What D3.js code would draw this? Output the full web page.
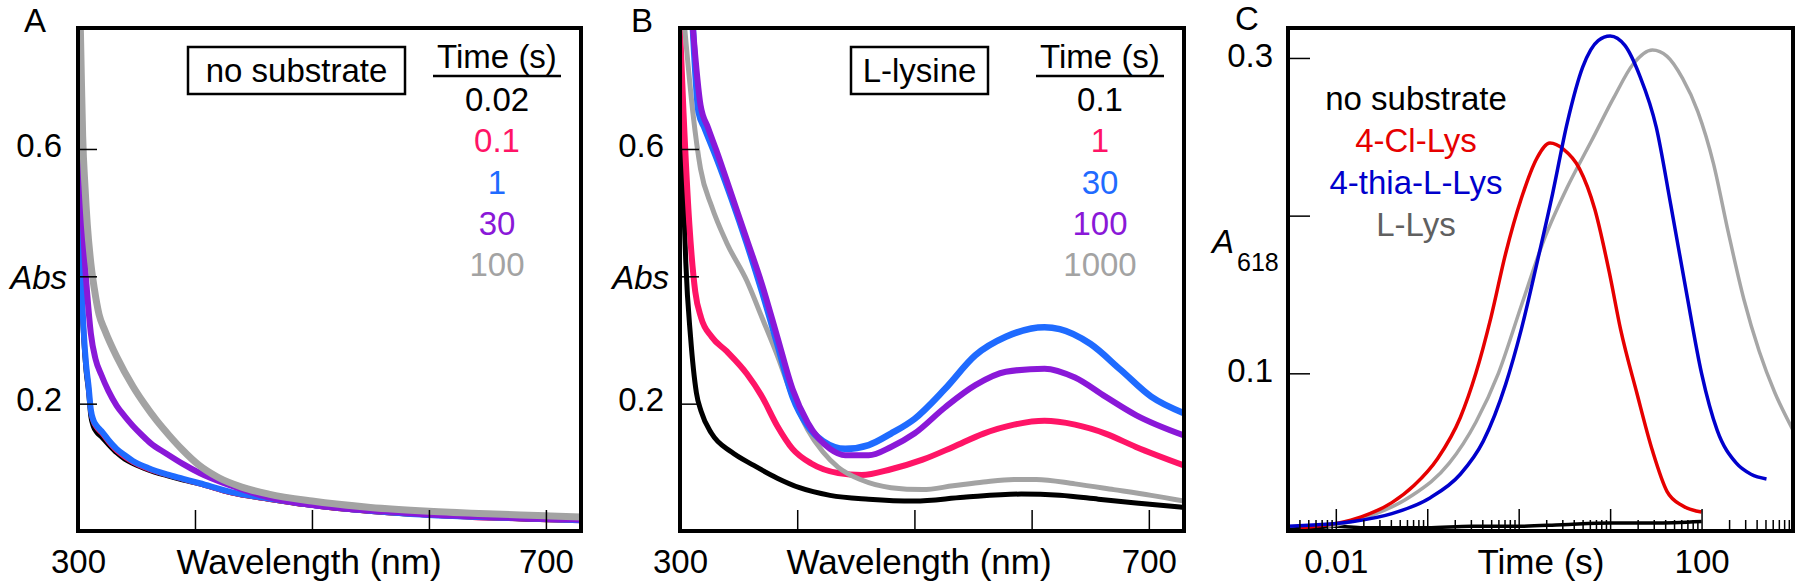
<!DOCTYPE html>
<html>
<head>
<meta charset="utf-8">
<script src="https://cdn.jsdelivr.net/npm/d3@7"></script>
<style>
  body { margin: 0; background: #fff; }
  svg text { font-family: "Liberation Sans", Arial, Helvetica, sans-serif; }
</style>
</head>
<body>
<svg id="chart" width="1800" height="586"></svg>
<script>
// ---------------- DATA ----------------
// Panel A: no substrate, spectra at several times (s)
const timesA = ["0.02", "0.1", "1", "30", "100"];
const aBlackWl = [300, 301, 302, 303, 305, 307, 309, 311, 313, 316, 320, 326, 333, 340, 347, 360, 376, 390, 404, 431, 463, 496, 530, 562, 600, 640, 680, 730];
const aBlackAbs = [0.78, 0.63, 0.49, 0.39, 0.30, 0.25, 0.22, 0.18, 0.165, 0.155, 0.148, 0.136, 0.123, 0.113, 0.106, 0.096, 0.087, 0.080, 0.074, 0.060, 0.050, 0.041, 0.034, 0.029, 0.025, 0.022, 0.019, 0.017];
const aPinkWl = [300, 301, 302, 303, 305, 307, 309, 311, 313, 316, 320, 326, 333, 340, 347, 360, 376, 390, 404, 431, 463, 496, 530, 562, 600, 640, 680, 730];
const aPinkAbs = [0.75, 0.64, 0.50, 0.40, 0.31, 0.26, 0.226, 0.188, 0.172, 0.162, 0.154, 0.140, 0.126, 0.116, 0.108, 0.097, 0.088, 0.081, 0.074, 0.060, 0.050, 0.041, 0.034, 0.029, 0.025, 0.021, 0.019, 0.016];
const aBlueWl = [300, 301, 302, 303, 305, 307, 309, 311, 313, 316, 320, 326, 333, 340, 347, 360, 376, 390, 404, 431, 463, 496, 530, 562, 600, 640, 680, 730];
const aBlueAbs = [0.78, 0.64, 0.50, 0.40, 0.31, 0.26, 0.228, 0.19, 0.175, 0.165, 0.157, 0.143, 0.129, 0.119, 0.110, 0.099, 0.089, 0.082, 0.075, 0.061, 0.051, 0.042, 0.035, 0.030, 0.025, 0.022, 0.020, 0.017];
const aPurpleWl = [300, 302, 304, 306, 308, 311, 315, 320, 326, 333, 340, 347, 355, 362, 376, 390, 404, 431, 463, 496, 530, 562, 600, 640, 680, 730];
const aPurpleAbs = [0.68, 0.58, 0.49, 0.42, 0.37, 0.31, 0.27, 0.245, 0.22, 0.197, 0.18, 0.165, 0.15, 0.138, 0.121, 0.105, 0.091, 0.071, 0.053, 0.042, 0.035, 0.031, 0.026, 0.023, 0.020, 0.018];
const aGrayWl = [302, 303, 304, 306, 308, 311, 314, 318, 323, 333, 347, 357, 367, 378, 389, 403, 420, 440, 463, 500, 550, 600, 650, 700, 730];
const aGrayAbs = [0.79, 0.70, 0.62, 0.54, 0.48, 0.42, 0.38, 0.34, 0.315, 0.274, 0.227, 0.199, 0.174, 0.150, 0.128, 0.104, 0.084, 0.069, 0.058, 0.047, 0.037, 0.031, 0.027, 0.024, 0.022];

// Panel B: L-lysine, spectra at several times (s)
const timesB = ["0.1", "1", "30", "100", "1000"];
const bBlackWl = [300, 302, 305, 309, 314, 318, 327, 344, 363, 383, 402, 428, 461, 500, 542, 591, 624, 657, 689, 730];
const bBlackAbs = [0.79, 0.60, 0.42, 0.305, 0.217, 0.188, 0.153, 0.124, 0.103, 0.083, 0.068, 0.056, 0.050, 0.047, 0.053, 0.058, 0.056, 0.050, 0.044, 0.037];
const bPinkWl = [300, 303, 308, 313, 318, 327, 340, 357, 370, 383, 396, 412, 435, 455, 480, 507, 533, 559, 585, 611, 637, 663, 689, 730];
const bPinkAbs = [0.79, 0.657, 0.481, 0.376, 0.335, 0.305, 0.282, 0.247, 0.211, 0.165, 0.129, 0.106, 0.091, 0.088, 0.097, 0.112, 0.132, 0.153, 0.167, 0.173, 0.167, 0.153, 0.132, 0.103];
const bBlueWl = [311, 316, 321, 331, 344, 357, 370, 383, 396, 409, 422, 441, 461, 480, 500, 526, 552, 578, 611, 624, 650, 676, 702, 730];
const bBlueAbs = [0.79, 0.657, 0.633, 0.587, 0.522, 0.452, 0.376, 0.294, 0.211, 0.165, 0.141, 0.129, 0.135, 0.153, 0.176, 0.223, 0.276, 0.305, 0.32, 0.317, 0.294, 0.253, 0.211, 0.185];
const bPurpleWl = [311, 317.5, 324, 331, 344, 357, 370, 383, 396, 409, 428, 441, 461, 480, 500, 526, 552, 578, 611, 637, 663, 689, 730];
const bPurpleAbs = [0.79, 0.669, 0.633, 0.598, 0.528, 0.458, 0.387, 0.305, 0.223, 0.170, 0.129, 0.119, 0.119, 0.132, 0.153, 0.194, 0.229, 0.25, 0.255, 0.241, 0.211, 0.182, 0.15];
const bGrayWl = [304, 311, 317.5, 327, 340, 357, 370, 383, 396, 409, 422, 435, 455, 480, 507, 533, 559, 585, 604, 637, 670, 702, 730];
const bGrayAbs = [0.79, 0.657, 0.569, 0.51, 0.452, 0.393, 0.335, 0.276, 0.211, 0.159, 0.124, 0.1, 0.08, 0.068, 0.065, 0.071, 0.077, 0.081, 0.081, 0.074, 0.065, 0.056, 0.047];

// Panel C: A618 vs time (s)
const cNames = ["no substrate", "4-Cl-Lys", "4-thia-L-Lys", "L-Lys"];
const cNoneT = [0.003, 0.006, 0.01, 0.02, 0.05, 0.1, 0.3, 1, 3, 10, 30, 100];
const cNoneA = [0.001, 0.002, 0.003, 0.002, 0.002, 0.002, 0.003, 0.003, 0.004, 0.005, 0.005, 0.006];
const cClT = [0.004, 0.0105, 0.019, 0.041, 0.072, 0.13, 0.23, 0.34, 0.5, 0.72, 1.07, 1.6, 2.2, 3.1, 4.6, 6.8, 9.8, 13, 19.5, 29, 42, 62, 100];
const cClA = [0.002, 0.005, 0.009, 0.018, 0.029, 0.046, 0.072, 0.1, 0.136, 0.176, 0.211, 0.237, 0.246, 0.242, 0.23, 0.204, 0.164, 0.128, 0.088, 0.051, 0.025, 0.016, 0.012];
const cThiaT = [0.003, 0.0155, 0.041, 0.107, 0.23, 0.41, 0.72, 1.07, 1.6, 2.35, 3.4, 5.0, 7.4, 10, 14.5, 21, 32, 46, 68, 100, 148, 240, 347, 513];
const cThiaA = [0.003, 0.006, 0.011, 0.021, 0.036, 0.057, 0.093, 0.128, 0.171, 0.214, 0.259, 0.294, 0.311, 0.314, 0.308, 0.289, 0.256, 0.207, 0.152, 0.1, 0.064, 0.043, 0.036, 0.033];
const cLysT = [0.008, 0.0105, 0.025, 0.066, 0.174, 0.34, 0.6, 1.07, 1.9, 3.4, 6.2, 11, 17.8, 29, 42, 62, 91, 135, 195, 290, 427, 630, 1000];
const cLysA = [0.003, 0.004, 0.01, 0.022, 0.043, 0.069, 0.1, 0.143, 0.185, 0.218, 0.247, 0.275, 0.296, 0.305, 0.301, 0.287, 0.266, 0.233, 0.19, 0.147, 0.114, 0.088, 0.064];

// Axis ticks / labels
const wlDomain = [300, 730];
const wlTicks = [300, 400, 500, 600, 700];
const wlLabels = [300, 700];
const absDomain = [0, 0.79];
const absTicks = [0.2, 0.4, 0.6];
const absLabels = ["0.2", "Abs", "0.6"];
const tDomain = [0.003, 1000];
const tMajor = [0.01, 0.1, 1, 10, 100];
const tLabels = [0.01, 100];
const a618Domain = [0, 0.319];
const a618Ticks = [0.1, 0.2, 0.3];
const a618Labels = ["0.1", "", "0.3"];

// ---------------- DRAWING ----------------
const svg = d3.select("#chart");
const FS = 33;       // tick labels / legends
const FT = 35;       // axis titles
const TOP = 28, BOTTOM = 531;

function styleAxis(ax) {
  ax.select(".domain").remove();
  ax.selectAll("line").attr("stroke", "#000").attr("stroke-width", 1.5);
  ax.selectAll("text").attr("font-size", FS).attr("fill", "#000")
    .attr("font-family", '"Liberation Sans", Arial, sans-serif');
  ax.selectAll("text").filter(function () { return this.textContent === ""; }).remove();
}

function drawSpectra(cfg) {
  const x = d3.scaleLinear().domain(wlDomain).range([cfg.left, cfg.right]);
  const y = d3.scaleLinear().domain(absDomain).range([BOTTOM, TOP]);
  const g = svg.append("g");
  const cid = "clip-" + cfg.id;
  g.append("clipPath").attr("id", cid).append("rect")
    .attr("x", cfg.left).attr("y", TOP).attr("width", cfg.right - cfg.left).attr("height", BOTTOM - TOP);
  const line = d3.line().x(d => x(d[0])).y(d => y(d[1])).curve(d3.curveMonotoneX);
  cfg.series.forEach(s => {
    g.append("path").attr("clip-path", `url(#${cid})`)
      .datum(d3.zip(s.wl, s.abs))
      .attr("d", line).attr("fill", "none").attr("stroke", s.color)
      .attr("stroke-width", s.w).attr("stroke-linejoin", "round");
  });
  // axes (inward ticks)
  const xa = g.append("g").attr("transform", `translate(0,${BOTTOM})`)
    .call(d3.axisBottom(x).tickValues(wlTicks).tickSize(-21).tickPadding(19)
      .tickFormat(d => wlLabels.includes(d) ? String(d) : ""));
  styleAxis(xa);
  const ya = g.append("g").attr("transform", `translate(${cfg.left},0)`)
    .call(d3.axisLeft(y).tickValues(absTicks).tickSize(-19).tickPadding(16)
      .tickFormat((d, i) => absLabels[i]));
  styleAxis(ya);
  ya.selectAll("text").attr("dy", "0.22em")
    .filter(d => d === 0.4).attr("font-style", "italic").attr("x", -11).attr("dy", "0.38em");
  // frame
  g.append("rect").attr("x", cfg.left).attr("y", TOP).attr("width", cfg.right - cfg.left)
    .attr("height", BOTTOM - TOP).attr("fill", "none").attr("stroke", "#000").attr("stroke-width", 4);
  // x title
  g.append("text").attr("x", cfg.titleX).attr("y", 574).attr("text-anchor", "middle")
    .attr("font-size", FT).text("Wavelength (nm)");
  // panel letter
  g.append("text").attr("x", cfg.letterX).attr("y", 32).attr("text-anchor", "middle")
    .attr("font-size", FS).text(cfg.id);
  // box legend
  g.append("rect").attr("x", cfg.box[0]).attr("y", 47).attr("width", cfg.box[1]).attr("height", 47)
    .attr("fill", "#fff").attr("stroke", "#000").attr("stroke-width", 2.5);
  g.append("text").attr("x", cfg.box[0] + cfg.box[1] / 2).attr("y", 82).attr("text-anchor", "middle")
    .attr("font-size", FS).text(cfg.boxText);
  // time legend
  g.append("text").attr("x", cfg.legX).attr("y", 68).attr("text-anchor", "middle")
    .attr("font-size", FS).text("Time (s)");
  g.append("line").attr("x1", cfg.legX - 64).attr("x2", cfg.legX + 64).attr("y1", 76).attr("y2", 76)
    .attr("stroke", "#000").attr("stroke-width", 2.5);
  cfg.times.forEach((t, i) => {
    g.append("text").attr("x", cfg.legX).attr("y", 111 + 41.3 * i).attr("text-anchor", "middle")
      .attr("font-size", FS).attr("fill", cfg.legColors[i]).text(t);
  });
}

const BLACK = "#000000", PINK = "#ff1466", BLUE = "#1f6bff", PURPLE = "#8a18d8", GRAY = "#a3a3a3";
const specColors = [BLACK, PINK, BLUE, PURPLE, GRAY];

drawSpectra({
  id: "A", left: 78, right: 581, titleX: 309, letterX: 35,
  box: [188, 217], boxText: "no substrate", legX: 497,
  times: timesA, legColors: specColors,
  series: [
    { wl: aBlackWl, abs: aBlackAbs, color: BLACK, w: 5 },
    { wl: aPinkWl, abs: aPinkAbs, color: PINK, w: 5 },
    { wl: aBlueWl, abs: aBlueAbs, color: BLUE, w: 6 },
    { wl: aPurpleWl, abs: aPurpleAbs, color: PURPLE, w: 6 },
    { wl: aGrayWl, abs: aGrayAbs, color: GRAY, w: 7 }
  ]
});

drawSpectra({
  id: "B", left: 680, right: 1184, titleX: 919, letterX: 642,
  box: [851, 137], boxText: "L-lysine", legX: 1100,
  times: timesB, legColors: specColors,
  series: [
    { wl: bBlackWl, abs: bBlackAbs, color: BLACK, w: 5 },
    { wl: bPinkWl, abs: bPinkAbs, color: PINK, w: 6 },
    { wl: bGrayWl, abs: bGrayAbs, color: GRAY, w: 5 },
    { wl: bBlueWl, abs: bBlueAbs, color: BLUE, w: 6.5 },
    { wl: bPurpleWl, abs: bPurpleAbs, color: PURPLE, w: 6 }
  ]
});

// Panel C
(function () {
  const left = 1288, right = 1793;
  const x = d3.scaleLog().domain(tDomain).range([left, right]);
  const y = d3.scaleLinear().domain(a618Domain).range([BOTTOM, TOP]);
  const g = svg.append("g");
  g.append("clipPath").attr("id", "clip-C").append("rect")
    .attr("x", left).attr("y", TOP).attr("width", right - left).attr("height", BOTTOM - TOP);
  const line = d3.line().x(d => x(d[0])).y(d => y(d[1])).curve(d3.curveMonotoneX);
  const series = [
    { t: cNoneT, a: cNoneA, color: "#000000", w: 3.5 },
    { t: cLysT, a: cLysA, color: "#a6a6a6", w: 3.5 },
    { t: cClT, a: cClA, color: "#e60000", w: 3.5 },
    { t: cThiaT, a: cThiaA, color: "#0000cc", w: 3.5 }
  ];
  series.forEach(s => {
    g.append("path").attr("clip-path", "url(#clip-C)")
      .datum(d3.zip(s.t, s.a)).attr("d", line).attr("fill", "none")
      .attr("stroke", s.color).attr("stroke-width", s.w).attr("stroke-linejoin", "round");
  });
  // minor ticks
  const minor = x.ticks().filter(v => !tMajor.some(m => Math.abs(m - v) / m < 1e-6) && v < 999);
  const xm = g.append("g").attr("transform", `translate(0,${BOTTOM})`)
    .call(d3.axisBottom(x).tickValues(minor).tickSize(-11).tickFormat(""));
  styleAxis(xm);
  const xa = g.append("g").attr("transform", `translate(0,${BOTTOM})`)
    .call(d3.axisBottom(x).tickValues(tMajor).tickSize(-22).tickPadding(19)
      .tickFormat(d => tLabels.some(l => Math.abs(l - d) / l < 1e-6) ? String(d) : ""));
  styleAxis(xa);
  const ya = g.append("g").attr("transform", `translate(${left},0)`)
    .call(d3.axisLeft(y).tickValues(a618Ticks).tickSize(-22).tickPadding(15)
      .tickFormat((d, i) => a618Labels[i]));
  styleAxis(ya);
  ya.selectAll("text").attr("dy", "0.25em");
  g.append("rect").attr("x", left).attr("y", TOP).attr("width", right - left)
    .attr("height", BOTTOM - TOP).attr("fill", "none").attr("stroke", "#000").attr("stroke-width", 4);
  g.append("text").attr("x", 1541).attr("y", 574).attr("text-anchor", "middle")
    .attr("font-size", FT).text("Time (s)");
  g.append("text").attr("x", 1247).attr("y", 30).attr("text-anchor", "middle")
    .attr("font-size", FS).text("C");
  g.append("text").attr("x", 1212).attr("y", 253).attr("font-size", FS)
    .attr("font-style", "italic").text("A");
  g.append("text").attr("x", 1237).attr("y", 271).attr("font-size", 25).text("618");
  const legColors = ["#000000", "#e60000", "#0000cc", "#606060"];
  cNames.forEach((n, i) => {
    g.append("text").attr("x", 1416).attr("y", 110 + 42 * i).attr("text-anchor", "middle")
      .attr("font-size", FS).attr("fill", legColors[i]).text(n);
  });
})();
</script>
</body>
</html>
